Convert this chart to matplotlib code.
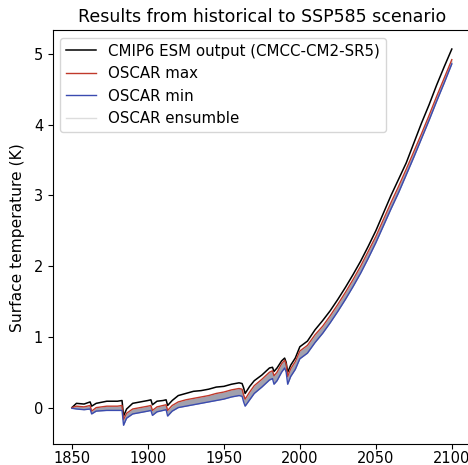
import matplotlib
matplotlib.use("Agg")
import matplotlib.pyplot as plt
from matplotlib.lines import Line2D

years = [1850, 1853, 1858, 1862, 1863, 1866, 1873, 1880, 1883, 1884, 1886, 1890,
         1895, 1900, 1902, 1903, 1906, 1910, 1912, 1913, 1916, 1920, 1925, 1930,
         1935, 1940, 1945, 1950, 1955, 1960, 1962, 1963, 1964, 1967, 1970, 1975,
         1980, 1982, 1983, 1985, 1988, 1990, 1991, 1992, 1994, 1997, 2000, 2005,
         2010, 2015, 2020, 2025, 2030, 2035, 2040, 2045, 2050, 2055, 2060, 2065,
         2070, 2075, 2080, 2085, 2090, 2095, 2100]

# CMIP6 ESM output (CMCC-CM2-SR5)
cmip6 = [0.00, 0.06, 0.05, 0.08, 0.02, 0.06, 0.09, 0.09, 0.10, -0.12, -0.02, 0.06,
         0.08, 0.10, 0.11, 0.04, 0.09, 0.10, 0.11, 0.03, 0.10, 0.17, 0.20, 0.23,
         0.24, 0.26, 0.29, 0.30, 0.33, 0.35, 0.34, 0.28, 0.20, 0.30, 0.38, 0.46,
         0.56, 0.57, 0.51, 0.56, 0.66, 0.70, 0.64, 0.50, 0.60, 0.70, 0.86, 0.94,
         1.10, 1.23, 1.37, 1.53, 1.70, 1.88, 2.07, 2.28, 2.50, 2.75, 3.00, 3.23,
         3.46, 3.74, 4.02, 4.28, 4.56, 4.82, 5.07]

# OSCAR max
oscar_max = [0.00, 0.02, 0.01, 0.03, -0.05, 0.00, 0.02, 0.02, 0.03, -0.17, -0.08, -0.02,
             0.00, 0.02, 0.03, -0.04, 0.01, 0.03, 0.04, -0.04, 0.03, 0.08, 0.11, 0.13,
             0.15, 0.17, 0.20, 0.22, 0.25, 0.27, 0.26, 0.18, 0.12, 0.22, 0.31, 0.40,
             0.50, 0.52, 0.45, 0.50, 0.62, 0.67, 0.62, 0.44, 0.55, 0.65, 0.80, 0.88,
             1.03, 1.15, 1.30, 1.46, 1.63, 1.81, 2.00, 2.21, 2.42, 2.66, 2.90, 3.13,
             3.37, 3.62, 3.87, 4.13, 4.40, 4.66, 4.92]

# OSCAR min
oscar_min = [-0.01, -0.02, -0.03, -0.02, -0.09, -0.05, -0.04, -0.04, -0.04, -0.25, -0.15, -0.09,
             -0.07, -0.05, -0.04, -0.11, -0.06, -0.04, -0.03, -0.12, -0.05, 0.00, 0.02, 0.04,
             0.06, 0.08, 0.10, 0.12, 0.15, 0.17, 0.16, 0.08, 0.02, 0.11, 0.20, 0.29,
             0.39, 0.41, 0.33, 0.38, 0.50, 0.56, 0.50, 0.33, 0.44, 0.54, 0.69, 0.77,
             0.92, 1.05, 1.20, 1.36, 1.53, 1.71, 1.90, 2.11, 2.33, 2.57, 2.81, 3.04,
             3.29, 3.54, 3.80, 4.06, 4.33, 4.59, 4.86]

fig = plt.figure(figsize=(4.68, 4.65), dpi=100)
ax = fig.add_axes([0.113, 0.045, 0.893, 0.890])

# ensemble spread
ax.fill_between(years, oscar_min, oscar_max, color='#8a8a9a', alpha=0.8, lw=0)
ax.plot(years, cmip6, color='black', lw=1.1)
ax.plot(years, oscar_max, color='#c0392b', lw=1.0)
ax.plot(years, oscar_min, color='#3a4bb0', lw=1.0)

handles = [Line2D([], [], color='black', lw=1.1),
           Line2D([], [], color='#c0392b', lw=1.0),
           Line2D([], [], color='#3a4bb0', lw=1.0),
           Line2D([], [], color='#dddddd', lw=1.0)]
labels = ['CMIP6 ESM output (CMCC-CM2-SR5)', 'OSCAR max', 'OSCAR min', 'OSCAR ensumble']
ax.legend(handles, labels, loc='upper left', fontsize=10.8)

ax.set_title("Results from historical to SSP585 scenario", fontsize=12.5)
ax.set_ylabel("Surface temperature (K)", fontsize=11.2, labelpad=6)
ax.set_xticks([1850, 1900, 1950, 2000, 2050, 2100])
ax.set_yticks([0, 1, 2, 3, 4, 5])
ax.tick_params(labelsize=10.5)
ax.tick_params(axis='x', pad=1.5)

fig.savefig("out.png", dpi=100)
